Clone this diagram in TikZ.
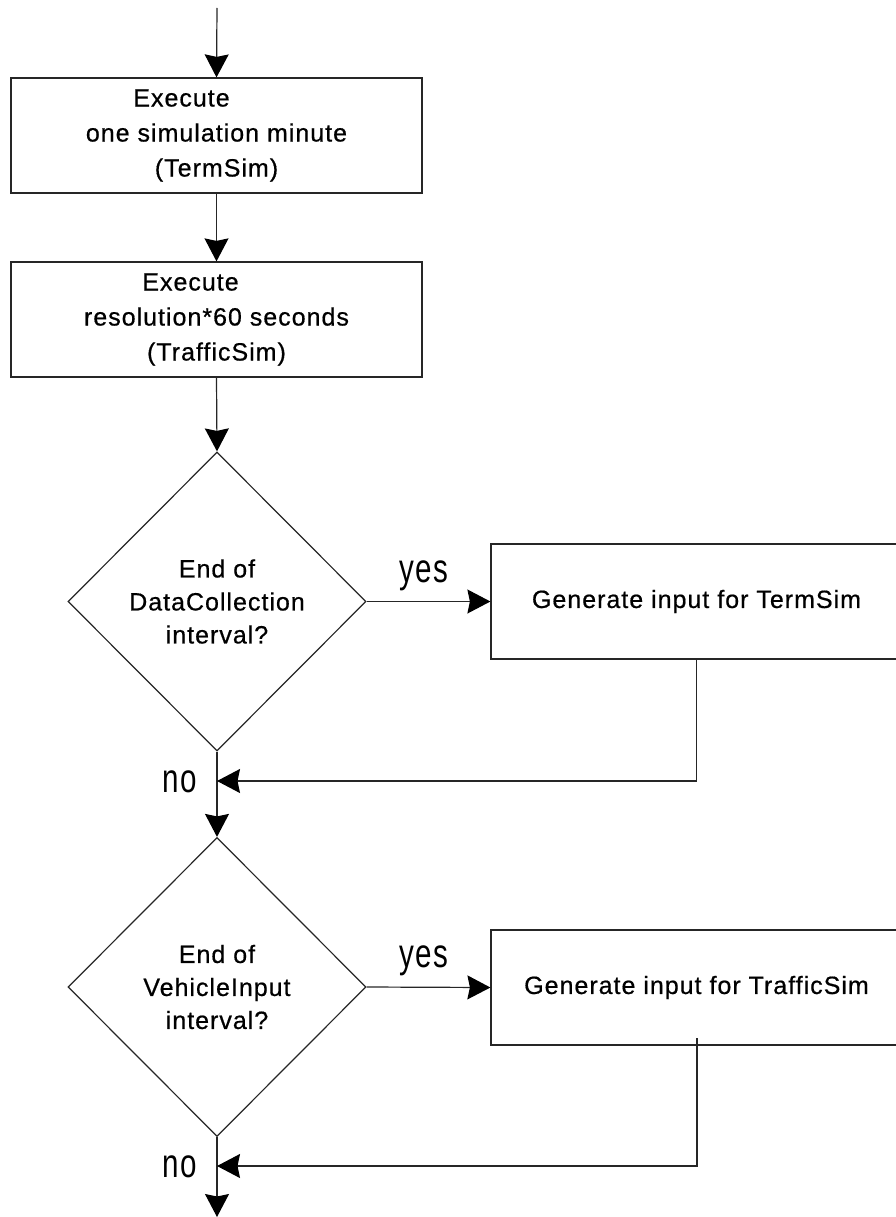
\documentclass[tikz,border=0pt]{standalone}
\usepackage{fontspec}
\usepackage{graphicx}
\setmainfont{Liberation Sans}
\newfontfamily\chartfont[LetterSpace=4, FakeBold=0.6]{Liberation Sans}
\newfontfamily\labelfont[LetterSpace=4]{Liberation Sans}
\usetikzlibrary{shapes.geometric,arrows.meta}

% flow-chart label with the tall, narrow look of yes/no
\newcommand{\branchlabel}[1]{\scalebox{0.87}[1.19]{\labelfont\fontsize{34}{34}\selectfont #1}}

\tikzset{
  line/.style={draw=black!85, line width=1.2pt},
  arr/.style={line, -{Stealth[length=23pt, width=24pt, inset=2.5pt, fill=black, color=black]}},
  procbox/.style={line, rectangle, minimum width=411pt, minimum height=115pt,
    inner sep=0pt, align=center, font=\chartfont\fontsize{25}{33}\selectfont},
  stepbox/.style={procbox, font=\chartfont\fontsize{25}{35}\selectfont},
  decision/.style={line, diamond, minimum width=298pt, minimum height=299pt,
    inner sep=0pt, align=center, font=\chartfont\fontsize{25}{33}\selectfont},
  branch/.style={anchor=base, inner sep=0pt},
}

\begin{document}
\begin{tikzpicture}[x=1pt, y=-1pt]
  \useasboundingbox (0,0) rectangle (896,1217);
  \clip (0,0) rectangle (896,1217);

  % process steps
  \node[stepbox] (b1) at (216.5,135.5)
    {Execute\rule{70pt}{0pt}\\one simulation minute\\(TermSim)};
  \node[stepbox] (b2) at (216.5,319.5)
    {Execute\rule{52pt}{0pt}\\resolution*60 seconds\\(TrafficSim)};

  % decisions
  \node[decision] (d1) at (217,601.5) {End of\\DataCollection\\interval?};
  \node[decision] (d2) at (217,987) {End of\\VehicleInput\\interval?};

  % input generation boxes
  \node[procbox] (b3) at (696.5,601.5) {Generate input for TermSim};
  \node[procbox] (b4) at (696.5,987.5) {Generate input for TrafficSim};

  % free ends and merge points
  \coordinate (start) at (217,8);
  \coordinate (m1) at (217,781);
  \coordinate (r2) at (697,1038);
  \coordinate (m2) at (217,1166);
  \coordinate (stop) at (217,1217);

  % main flow
  \draw[arr] (start) -- (b1.north);
  \draw[arr] (b1.south) -- (b2.north);
  \draw[arr] (b2.south) -- (d1.north);
  \draw[arr] (d1.south) -- (d2.north);
  \draw[arr] (d2.south) -- (stop);

  % yes branches
  \draw[arr] (d1.east) -- (b3.west);
  \draw[arr] (d2.east) -- (b4.west);

  % returns to the main line
  \draw[arr] (b3.south) -- (b3.south |- m1) -- (m1);
  \draw[arr] (r2) -- (r2 |- m2) -- (m2);

  % branch labels
  \node[branch] (yes1) at (424,582) {\branchlabel{yes}};
  \node[branch] (yes2) at (424,967.5) {\branchlabel{yes}};
  \node[branch] (no1) at (179.5,792) {\branchlabel{no}};
  \node[branch] (no2) at (179.5,1177) {\branchlabel{no}};
\end{tikzpicture}
\end{document}
